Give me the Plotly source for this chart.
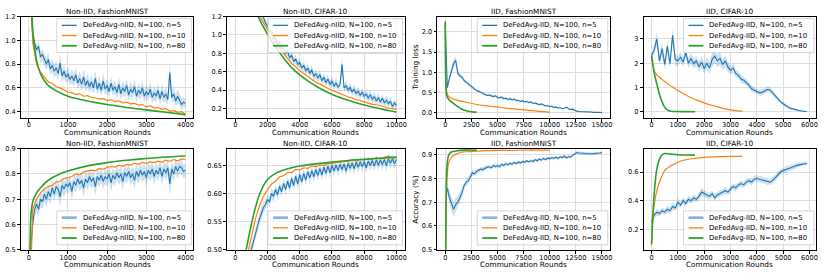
import plotly.graph_objects as go

# ---------------- data ----------------
# Panel 1: Non-IID, FashionMNIST, training loss
p1_blue_rounds = list(range(0, 4001, 50))
p1_blue = [2.30,1.30,1.04,0.97,0.92,0.95,0.86,0.88,0.83,0.80,
           0.84,0.76,0.79,0.74,0.77,0.72,0.81,0.70,0.74,0.69,
           0.72,0.67,0.70,0.66,0.71,0.64,0.68,0.63,0.69,0.62,
           0.66,0.61,0.65,0.60,0.68,0.59,0.64,0.58,0.66,0.59,
           0.62,0.57,0.64,0.58,0.61,0.56,0.63,0.55,0.60,0.57,
           0.62,0.54,0.59,0.56,0.61,0.53,0.58,0.55,0.60,0.53,
           0.57,0.54,0.59,0.52,0.56,0.53,0.58,0.51,0.57,0.52,
           0.55,0.50,0.73,0.52,0.55,0.49,0.53,0.50,0.46,0.48,
           0.47]
p1_spread = [0.00,0.06,0.05,0.05,0.04,0.05,0.05,0.05,0.05,0.05,
             0.06,0.05,0.06,0.05,0.06,0.05,0.08,0.05,0.06,0.05,
             0.06,0.05,0.06,0.05,0.06,0.05,0.06,0.05,0.07,0.05,
             0.06,0.05,0.06,0.05,0.07,0.05,0.06,0.05,0.07,0.05,
             0.06,0.05,0.06,0.05,0.06,0.05,0.07,0.05,0.06,0.05,
             0.06,0.05,0.06,0.05,0.06,0.05,0.06,0.05,0.06,0.05,
             0.06,0.05,0.06,0.05,0.06,0.05,0.06,0.05,0.06,0.05,
             0.06,0.05,0.10,0.05,0.06,0.05,0.06,0.05,0.05,0.04,
             0.04]
p1_orange_rounds = list(range(0, 4001, 100))
p1_orange = [2.30,0.98,0.80,0.73,0.69,0.65,0.64,0.61,0.60,0.58,
             0.565,0.56,0.545,0.55,0.53,0.535,0.52,0.515,0.505,0.51,
             0.495,0.50,0.485,0.49,0.475,0.48,0.465,0.47,0.455,0.46,
             0.44,0.45,0.43,0.435,0.42,0.425,0.405,0.41,0.395,0.40,
             0.38]
p1_green_rounds = [0,50,100,150,200,300,400,500,700,1000,1500,2000,2500,3000,3500,4000]
p1_green = [2.30,1.45,1.10,0.93,0.83,0.72,0.66,0.62,0.575,0.53,0.49,0.46,0.435,0.415,0.395,0.375]

# Panel 2: Non-IID, CIFAR-10, training loss
p2_blue_rounds = list(range(0, 10001, 125))
p2_blue = [2.30,2.10,1.98,1.88,1.80,1.72,1.64,1.58,1.50,1.44,
           1.37,1.33,1.27,1.22,1.19,1.13,1.10,1.04,1.03,0.97,
           0.96,0.90,0.92,0.85,0.86,0.80,0.82,0.75,0.78,0.71,
           0.74,0.68,0.70,0.64,0.67,0.61,0.64,0.58,0.62,0.55,
           0.58,0.53,0.57,0.50,0.54,0.48,0.52,0.46,0.50,0.44,
           0.48,0.43,0.46,0.68,0.42,0.45,0.40,0.43,0.38,0.41,
           0.36,0.39,0.34,0.38,0.33,0.36,0.31,0.35,0.30,0.33,
           0.28,0.32,0.27,0.31,0.26,0.29,0.25,0.28,0.22,0.26,
           0.23]
p2_spread = [0.00,0.03,0.04,0.04,0.04,0.04,0.04,0.04,0.04,0.04,
             0.04,0.04,0.04,0.04,0.04,0.04,0.04,0.04,0.05,0.04,
             0.05,0.04,0.05,0.04,0.05,0.04,0.05,0.04,0.05,0.04,
             0.05,0.04,0.05,0.04,0.05,0.04,0.05,0.04,0.05,0.04,
             0.05,0.04,0.05,0.04,0.05,0.04,0.05,0.04,0.05,0.04,
             0.05,0.04,0.05,0.08,0.04,0.05,0.04,0.05,0.04,0.05,
             0.04,0.05,0.04,0.05,0.04,0.05,0.04,0.05,0.04,0.05,
             0.04,0.05,0.04,0.05,0.04,0.05,0.04,0.05,0.04,0.04,
             0.04]
p2_orange_rounds = list(range(0, 10001, 250))
p2_orange = [2.30,2.00,1.78,1.60,1.44,1.31,1.21,1.13,1.05,0.98,
             0.91,0.855,0.79,0.745,0.69,0.655,0.61,0.58,0.545,0.52,
             0.485,0.465,0.44,0.415,0.395,0.38,0.36,0.345,0.325,0.315,
             0.295,0.285,0.27,0.26,0.245,0.24,0.225,0.218,0.205,0.20,
             0.19]
p2_green_rounds = [0,500,1000,1250,1500,2000,2500,3000,3500,4000,4500,5000,5500,6000,6500,7000,7500,8000,8500,9000,9500,10000]
p2_green = [2.30,1.75,1.40,1.27,1.17,1.01,0.87,0.75,0.645,0.565,0.50,0.445,0.395,0.355,0.32,0.29,0.262,0.237,0.215,0.196,0.178,0.162]

# Panel 3: IID, FashionMNIST, training loss
p3_blue_rounds = list(range(0, 15001, 200))
p3_blue = [2.20,0.62,0.85,1.05,1.22,1.30,0.98,0.92,0.88,0.80,
           0.76,0.70,0.66,0.62,0.60,0.55,0.53,0.50,0.47,0.45,
           0.43,0.44,0.41,0.40,0.42,0.38,0.37,0.39,0.35,0.36,
           0.33,0.35,0.32,0.34,0.30,0.31,0.28,0.30,0.27,0.28,
           0.25,0.27,0.23,0.24,0.22,0.20,0.22,0.19,0.17,0.18,
           0.15,0.16,0.13,0.14,0.12,0.13,0.10,0.11,0.14,0.10,
           0.08,0.09,0.06,0.04,0.03,0.03,0.02,0.025,0.02,0.015,
           0.02,0.01,0.015,0.01,0.01,0.005]
p3_spread = [0.00,0.05,0.08,0.10,0.12,0.10,0.08,0.06,0.05,0.05,
             0.04,0.04,0.04,0.04,0.04,0.03,0.03,0.03,0.03,0.03,
             0.03,0.03,0.03,0.03,0.03,0.03,0.03,0.03,0.03,0.03,
             0.03,0.03,0.03,0.03,0.02,0.02,0.02,0.02,0.02,0.02,
             0.02,0.02,0.02,0.02,0.02,0.02,0.02,0.02,0.02,0.02,
             0.02,0.02,0.02,0.02,0.02,0.02,0.02,0.02,0.02,0.02,
             0.02,0.02,0.02,0.02,0.015,0.015,0.015,0.015,0.015,0.015,
             0.01,0.01,0.01,0.01,0.01,0.01]
p3_orange_rounds = [0,25,50,100,200,350,500,1000,1500,2000,3000,4000,5000,6000,7000,8000,9000,10000]
p3_orange = [2.27,1.30,0.85,0.60,0.46,0.40,0.37,0.32,0.29,0.26,0.205,0.17,0.14,0.11,0.085,0.06,0.035,0.015]
p3_green_rounds = [0,25,50,100,150,250,500,750,1000,1500,2000,2500,3000]
p3_green = [2.25,1.20,0.75,0.50,0.42,0.36,0.29,0.24,0.19,0.10,0.05,0.025,0.015]

# Panel 4: IID, CIFAR-10, training loss
p4_blue_rounds = list(range(0, 5901, 100))
p4_blue = [2.32,2.55,3.00,2.10,2.60,1.95,2.70,1.98,3.15,2.15,
           2.10,2.25,2.05,2.45,2.00,2.20,1.98,2.10,1.85,2.05,
           1.78,2.00,1.80,2.15,2.30,2.10,2.20,1.95,2.10,1.85,
           1.70,1.80,1.58,1.50,1.35,1.30,1.20,1.10,0.95,0.90,
           0.82,0.78,0.80,0.85,0.92,0.90,0.78,0.64,0.52,0.42,
           0.33,0.25,0.19,0.14,0.10,0.07,0.05,0.03,0.015,0.005]
p4_spread = [0.10,0.20,0.30,0.20,0.25,0.20,0.25,0.20,0.30,0.25,
             0.20,0.22,0.20,0.25,0.20,0.22,0.20,0.22,0.20,0.25,
             0.22,0.25,0.22,0.28,0.30,0.25,0.28,0.22,0.25,0.20,
             0.18,0.18,0.16,0.15,0.15,0.14,0.14,0.13,0.13,0.12,
             0.12,0.12,0.12,0.12,0.12,0.12,0.10,0.10,0.09,0.08,
             0.07,0.06,0.05,0.05,0.04,0.03,0.03,0.02,0.01,0.01]
p4_orange_rounds = [0,50,100,200,300,400,600,800,1000,1250,1500,1750,2000,2250,2500,2750,3000,3250,3450]
p4_orange = [2.30,1.90,1.70,1.52,1.42,1.33,1.17,1.02,0.88,0.72,0.58,0.47,0.37,0.28,0.20,0.13,0.08,0.04,0.025]
p4_green_rounds = [0,100,200,300,400,500,600,700,800,1000,1300,1650]
p4_green = [2.30,1.60,1.15,0.72,0.40,0.19,0.08,0.03,0.015,0.01,0.005,0.0]

# Panel 5: Non-IID, FashionMNIST, accuracy
p5_blue_rounds = list(range(0, 4001, 50))
p5_blue = [0.10,0.50,0.60,0.66,0.68,0.66,0.70,0.69,0.72,0.70,
           0.73,0.71,0.745,0.72,0.75,0.74,0.71,0.755,0.74,0.76,
           0.75,0.765,0.73,0.77,0.755,0.78,0.76,0.775,0.745,0.78,
           0.765,0.79,0.77,0.785,0.75,0.79,0.775,0.795,0.77,0.79,
           0.78,0.80,0.765,0.795,0.78,0.805,0.785,0.80,0.77,0.805,
           0.79,0.81,0.785,0.80,0.775,0.81,0.79,0.815,0.795,0.81,
           0.785,0.815,0.80,0.82,0.79,0.815,0.80,0.825,0.79,0.82,
           0.805,0.825,0.76,0.82,0.80,0.83,0.81,0.83,0.825,0.81,
           0.815]
p5_spread = [0.00,0.03,0.03,0.03,0.03,0.03,0.03,0.03,0.03,0.03,
             0.03,0.03,0.03,0.03,0.03,0.03,0.04,0.03,0.03,0.03,
             0.03,0.03,0.035,0.03,0.03,0.03,0.03,0.03,0.035,0.03,
             0.03,0.03,0.03,0.03,0.035,0.03,0.03,0.03,0.03,0.03,
             0.03,0.03,0.035,0.03,0.03,0.03,0.03,0.03,0.035,0.03,
             0.03,0.03,0.03,0.03,0.035,0.03,0.03,0.03,0.03,0.03,
             0.035,0.03,0.03,0.03,0.035,0.03,0.03,0.03,0.035,0.03,
             0.03,0.03,0.05,0.03,0.03,0.03,0.03,0.03,0.03,0.025,
             0.025]
p5_orange_rounds = list(range(0, 4001, 100))
p5_orange = [0.10,0.66,0.70,0.725,0.74,0.75,0.755,0.768,0.77,0.782,
             0.785,0.79,0.80,0.796,0.808,0.81,0.815,0.812,0.822,0.818,
             0.826,0.83,0.827,0.835,0.83,0.838,0.835,0.843,0.838,0.846,
             0.842,0.848,0.845,0.851,0.846,0.855,0.85,0.857,0.852,0.86,
             0.857]
p5_green_rounds = [0,25,50,75,100,150,200,300,500,750,1000,1500,2000,2500,3000,3500,4000]
p5_green = [0.10,0.45,0.62,0.665,0.69,0.71,0.725,0.745,0.775,0.797,0.812,0.832,0.845,0.854,0.861,0.867,0.871]

# Panel 6: Non-IID, CIFAR-10, accuracy
p6_blue_rounds = list(range(0, 10001, 125))
p6_blue = [0.10,0.20,0.30,0.37,0.42,0.45,0.47,0.49,0.50,0.515,
           0.53,0.545,0.555,0.565,0.575,0.58,0.59,0.585,0.60,0.595,
           0.607,0.598,0.613,0.603,0.618,0.607,0.622,0.61,0.627,0.614,
           0.631,0.617,0.634,0.621,0.636,0.624,0.639,0.628,0.641,0.63,
           0.643,0.632,0.645,0.633,0.647,0.636,0.649,0.637,0.65,0.64,
           0.651,0.641,0.652,0.643,0.653,0.64,0.654,0.645,0.655,0.644,
           0.656,0.647,0.657,0.648,0.657,0.646,0.658,0.65,0.659,0.649,
           0.66,0.651,0.66,0.652,0.661,0.65,0.662,0.654,0.662,0.653,
           0.661]
p6_spread = [0.0,0.01,0.01,0.01,0.01,0.01,0.01,0.01,0.01,0.01,
             0.01,0.01,0.01,0.01,0.01,0.008,0.008,0.01,0.008,0.01,
             0.008,0.01,0.008,0.01,0.008,0.01,0.008,0.01,0.008,0.01,
             0.008,0.01,0.008,0.01,0.008,0.01,0.008,0.01,0.008,0.01,
             0.008,0.01,0.008,0.01,0.008,0.01,0.008,0.01,0.008,0.01,
             0.008,0.01,0.008,0.01,0.008,0.01,0.008,0.01,0.008,0.01,
             0.008,0.01,0.008,0.01,0.008,0.01,0.008,0.01,0.008,0.01,
             0.008,0.01,0.008,0.01,0.008,0.01,0.008,0.01,0.008,0.01,
             0.008]
p6_orange_rounds = list(range(0, 10001, 250))
p6_orange = [0.10,0.30,0.44,0.49,0.525,0.555,0.578,0.595,0.607,0.617,
             0.622,0.63,0.632,0.638,0.637,0.643,0.642,0.646,0.645,0.649,
             0.648,0.651,0.65,0.654,0.653,0.656,0.655,0.658,0.657,0.66,
             0.658,0.661,0.66,0.662,0.661,0.664,0.662,0.665,0.667,0.663,
             0.665]
p6_green_rounds = [0,500,750,1000,1250,1500,1750,2000,2500,3000,3500,4000,5000,6000,7000,8000,9000,10000]
p6_green = [0.10,0.47,0.51,0.545,0.575,0.598,0.614,0.625,0.636,0.642,0.646,0.649,0.653,0.656,0.659,0.661,0.663,0.665]

# Panel 7: IID, FashionMNIST, accuracy
p7_blue_rounds = [100] + list(range(200, 15001, 200))
p7_blue = [0.74,0.76,0.72,0.69,0.67,0.69,0.70,0.72,0.74,0.77,
           0.785,0.79,0.81,0.825,0.82,0.83,0.835,0.84,0.838,0.845,
           0.848,0.85,0.845,0.855,0.85,0.855,0.85,0.86,0.855,0.862,
           0.858,0.865,0.86,0.868,0.862,0.87,0.865,0.872,0.868,0.875,
           0.87,0.876,0.872,0.88,0.875,0.882,0.878,0.885,0.88,0.886,
           0.884,0.888,0.886,0.89,0.885,0.892,0.888,0.895,0.887,0.893,
           0.89,0.898,0.905,0.91,0.908,0.909,0.907,0.906,0.905,0.904,
           0.906,0.905,0.907,0.906,0.908,0.909]
p7_spread = [0.02,0.02,0.025,0.03,0.03,0.03,0.025,0.02,0.02,0.015,
             0.015,0.015,0.012,0.012,0.01,0.01,0.01,0.01,0.01,0.01,
             0.008,0.008,0.008,0.008,0.008,0.008,0.008,0.008,0.008,0.008,
             0.006,0.006,0.006,0.006,0.006,0.006,0.006,0.006,0.006,0.006,
             0.006,0.006,0.006,0.006,0.006,0.006,0.006,0.006,0.006,0.006,
             0.006,0.006,0.006,0.006,0.006,0.006,0.006,0.006,0.006,0.006,
             0.006,0.006,0.006,0.006,0.006,0.006,0.006,0.006,0.006,0.006,
             0.005,0.005,0.005,0.005,0.005,0.005]
p7_orange_rounds = [0,50,100,200,300,400,600,800,1000,1500,2000,3000,4000,6000,8000,10000]
p7_orange = [0.10,0.50,0.70,0.82,0.86,0.875,0.89,0.898,0.903,0.91,0.913,0.916,0.918,0.919,0.92,0.92]
p7_green_rounds = [0,50,100,200,300,400,600,1000,2000,3000]
p7_green = [0.10,0.55,0.78,0.87,0.895,0.905,0.912,0.916,0.92,0.92]

# Panel 8: IID, CIFAR-10, accuracy
p8_blue_rounds = list(range(0, 5901, 100))
p8_blue = [0.25,0.30,0.32,0.31,0.33,0.32,0.34,0.33,0.36,0.35,
           0.39,0.37,0.40,0.38,0.41,0.40,0.42,0.41,0.43,0.46,
           0.45,0.44,0.43,0.45,0.42,0.44,0.45,0.46,0.47,0.46,
           0.48,0.50,0.49,0.51,0.52,0.51,0.53,0.54,0.53,0.55,
           0.555,0.55,0.545,0.54,0.535,0.53,0.54,0.56,0.58,0.60,
           0.61,0.62,0.625,0.63,0.64,0.645,0.65,0.655,0.658,0.66]
p8_spread = [0.02,0.02,0.025,0.02,0.025,0.02,0.025,0.02,0.025,0.02,
             0.03,0.02,0.025,0.02,0.025,0.02,0.025,0.02,0.025,0.03,
             0.025,0.02,0.025,0.02,0.025,0.02,0.025,0.02,0.025,0.02,
             0.025,0.02,0.025,0.02,0.025,0.02,0.025,0.02,0.025,0.02,
             0.025,0.02,0.025,0.02,0.025,0.02,0.025,0.02,0.025,0.02,
             0.02,0.02,0.02,0.02,0.02,0.015,0.015,0.015,0.01,0.01]
p8_orange_rounds = [0,50,100,200,300,500,750,1000,1250,1500,2000,2500,3000,3450]
p8_orange = [0.09,0.27,0.37,0.47,0.53,0.61,0.645,0.668,0.684,0.693,0.703,0.707,0.709,0.71]
p8_green_rounds = [0,50,100,150,200,300,400,500,600,800,1000,1300,1650]
p8_green = [0.10,0.30,0.45,0.55,0.62,0.69,0.72,0.729,0.728,0.724,0.721,0.719,0.718]

titles = ["Non-IID, FashionMNIST", "Non-IID, CIFAR-10", "IID, FashionMNIST", "IID, CIFAR-10",
          "Non-IID, FashionMNIST", "Non-IID, CIFAR-10", "IID, FashionMNIST", "IID, CIFAR-10"]
legend_nIID = ["DeFedAvg-nIID, N=100, n=5", "DeFedAvg-nIID, N=100, n=10", "DeFedAvg-nIID, N=100, n=80"]
legend_IID = ["DeFedAvg-IID, N=100, n=5", "DeFedAvg-IID, N=100, n=10", "DeFedAvg-IID, N=100, n=80"]
x_label = "Communication Rounds"
y_labels = {2: "Training loss", 6: "Accuracy (%)"}

p1_xticks = [0, 1000, 2000, 3000, 4000]
p2_xticks = [0, 2000, 4000, 6000, 8000, 10000]
p3_xticks = [0, 2500, 5000, 7500, 10000, 12500, 15000]
p4_xticks = [0, 1000, 2000, 3000, 4000, 5000, 6000]
p1_yticks = [0.4, 0.6, 0.8, 1.0, 1.2]
p2_yticks = [0.2, 0.4, 0.6, 0.8, 1.0, 1.2]
p3_yticks = [0.0, 0.5, 1.0, 1.5, 2.0]
p4_yticks = [0, 1, 2, 3]
p5_yticks = [0.5, 0.6, 0.7, 0.8, 0.9]
p6_yticks = [0.50, 0.55, 0.60, 0.65]
p7_yticks = [0.5, 0.6, 0.7, 0.8, 0.9]
p8_yticks = [0.2, 0.4, 0.6]

# ---------------- figure ----------------
BLUE = '#1f77b4'; ORANGE = '#ff7f0e'; GREEN = '#2ca02c'
BAND = 'rgba(31,119,180,0.22)'
FONT = 'DejaVu Sans'
TICK_SIZE = 6.6
LEG_SIZE = 6.9
LAB_SIZE = 7.3
W, H = 830, 277
def fx(p): return p / W
def fy(p): return 1 - p / H

COLS = [(21, 194), (228, 406), (439, 612), (646, 819)]
ROWS = [(13, 117), (149, 253)]

panels = [
    dict(b=(p1_blue_rounds, p1_blue, p1_spread), o=(p1_orange_rounds, p1_orange), g=(p1_green_rounds, p1_green),
         xr=[-200, 4200], yr=[0.35, 1.2], xt=p1_xticks, yt=p1_yticks, yf='.1f', spl=False),
    dict(b=(p2_blue_rounds, p2_blue, p2_spread), o=(p2_orange_rounds, p2_orange), g=(p2_green_rounds, p2_green),
         xr=[-500, 10500], yr=[0.1, 1.2], xt=p2_xticks, yt=p2_yticks, yf='.1f', spl=False),
    dict(b=(p3_blue_rounds, p3_blue, p3_spread), o=(p3_orange_rounds, p3_orange), g=(p3_green_rounds, p3_green),
         xr=[-750, 15750], yr=[-0.12, 2.38], xt=p3_xticks, yt=p3_yticks, yf='.1f', spl=True),
    dict(b=(p4_blue_rounds, p4_blue, p4_spread), o=(p4_orange_rounds, p4_orange), g=(p4_green_rounds, p4_green),
         xr=[-300, 6250], yr=[-0.24, 3.92], xt=p4_xticks, yt=p4_yticks, yf='d', spl=True),
    dict(b=(p5_blue_rounds, p5_blue, p5_spread), o=(p5_orange_rounds, p5_orange), g=(p5_green_rounds, p5_green),
         xr=[-200, 4200], yr=[0.5, 0.9], xt=p1_xticks, yt=p5_yticks, yf='.1f', spl=False),
    dict(b=(p6_blue_rounds, p6_blue, p6_spread), o=(p6_orange_rounds, p6_orange), g=(p6_green_rounds, p6_green),
         xr=[-500, 10500], yr=[0.5, 0.68], xt=p2_xticks, yt=p6_yticks, yf='.2f', spl=False),
    dict(b=(p7_blue_rounds, p7_blue, p7_spread), o=(p7_orange_rounds, p7_orange), g=(p7_green_rounds, p7_green),
         xr=[-750, 15750], yr=[0.5, 0.926], xt=p3_xticks, yt=p7_yticks, yf='.1f', spl=True),
    dict(b=(p8_blue_rounds, p8_blue, p8_spread), o=(p8_orange_rounds, p8_orange), g=(p8_green_rounds, p8_green),
         xr=[-300, 6250], yr=[0.058, 0.763], xt=p4_xticks, yt=p8_yticks, yf='.1f', spl=True),
]

fig = go.Figure()
annotations = []
shapes = []
layout = {}

for i, p in enumerate(panels):
    r, c = divmod(i, 4)
    sfx = '' if i == 0 else str(i + 1)
    xa, ya = 'x' + sfx, 'y' + sfx
    bx, by, bs = p['b']
    lo = [v - s for v, s in zip(by, bs)]
    hi = [v + s for v, s in zip(by, bs)]
    fig.add_trace(go.Scatter(x=bx, y=lo, mode='lines', line=dict(width=0, color=BAND),
                             showlegend=False, hoverinfo='skip', xaxis=xa, yaxis=ya))
    fig.add_trace(go.Scatter(x=bx, y=hi, mode='lines', line=dict(width=0, color=BAND), fill='tonexty',
                             fillcolor=BAND, showlegend=False, hoverinfo='skip', xaxis=xa, yaxis=ya))
    fig.add_trace(go.Scatter(x=bx, y=by, mode='lines', line=dict(width=1.1, color=BLUE),
                             showlegend=False, xaxis=xa, yaxis=ya))
    ox, oy = p['o']
    fig.add_trace(go.Scatter(x=ox, y=oy, mode='lines',
                             line=dict(width=1.2, color=ORANGE, shape='spline' if p['spl'] else 'linear', smoothing=0.6),
                             showlegend=False, xaxis=xa, yaxis=ya))
    gx, gy = p['g']
    fig.add_trace(go.Scatter(x=gx, y=gy, mode='lines',
                             line=dict(width=1.6, color=GREEN, shape='spline', smoothing=0.6),
                             showlegend=False, xaxis=xa, yaxis=ya))

    x0, x1 = COLS[c]
    y0, y1 = ROWS[r]
    common = dict(showline=True, mirror=True, linecolor='black', linewidth=0.8,
                  ticks='outside', ticklen=3, tickwidth=0.8, tickcolor='black',
                  showgrid=True, gridcolor='#dedede', gridwidth=0.8, zeroline=False,
                  ticklabeloverflow='allow',
                  tickfont=dict(family=FONT, size=TICK_SIZE, color='black'))
    layout['xaxis' + sfx] = dict(domain=[fx(x0), fx(x1)], anchor=ya, range=p['xr'],
                                 tickvals=p['xt'], tickformat='d', tickangle=0,
                                 ticklabelstandoff=-2, **common)
    layout['yaxis' + sfx] = dict(domain=[fy(y1), fy(y0)], anchor=xa, range=p['yr'],
                                 tickvals=p['yt'], tickformat=p['yf'], **common)

    # title
    annotations.append(dict(text=titles[i], x=fx((x0 + x1) / 2), y=fy(y0 - 5.5), xref='paper', yref='paper',
                            showarrow=False, xanchor='center', yanchor='middle',
                            font=dict(family=FONT, size=LAB_SIZE, color='black')))
    # x label
    annotations.append(dict(text=x_label, x=fx((x0 + x1) / 2), y=fy(y1 + 15.5), xref='paper', yref='paper',
                            showarrow=False, xanchor='center', yanchor='middle',
                            font=dict(family=FONT, size=LAB_SIZE, color='black')))
    if i in y_labels:
        annotations.append(dict(text=y_labels[i], x=fx(417), y=fy((y0 + y1) / 2), xref='paper', yref='paper',
                                showarrow=False, textangle=-90, xanchor='center', yanchor='middle',
                                font=dict(family=FONT, size=LAB_SIZE, color='black')))

    # legend box (drawn manually)
    labels = legend_nIID if c < 2 else legend_IID
    bw = 135 if c < 2 else 131
    br = x1 - 2
    bl = br - bw
    if r == 0:
        bt = y0 + 2
    else:
        bt = y1 - 5 - 35
    bb = bt + 35
    shapes.append(dict(type='rect', xref='paper', yref='paper', x0=fx(bl), x1=fx(br), y0=fy(bb), y1=fy(bt),
                       line=dict(color='#cccccc', width=0.8), fillcolor='rgba(255,255,255,0.8)', layer='above'))
    hcols = [BLUE if r == 0 else 'rgba(31,119,180,0.55)', ORANGE, GREEN]
    hw = [1.3 if r == 0 else 2.6, 1.3, 1.8]
    for k in range(3):
        yy = bt + 7 + k * 10.5
        shapes.append(dict(type='line', xref='paper', yref='paper', x0=fx(bl + 5), x1=fx(bl + 20),
                           y0=fy(yy), y1=fy(yy), line=dict(color=hcols[k], width=hw[k]), layer='above'))
        annotations.append(dict(text=labels[k], x=fx(bl + 24), y=fy(yy), xref='paper', yref='paper',
                                showarrow=False, xanchor='left', yanchor='middle',
                                font=dict(family=FONT, size=LEG_SIZE, color='black')))

fig.update_layout(width=W, height=H, margin=dict(l=0, r=0, t=0, b=0),
                  paper_bgcolor='white', plot_bgcolor='white', showlegend=False,
                  annotations=annotations, shapes=shapes, **layout)
fig.write_html("out.html", config={'displayModeBar': False},
               post_script="document.body.style.margin='0px';")
